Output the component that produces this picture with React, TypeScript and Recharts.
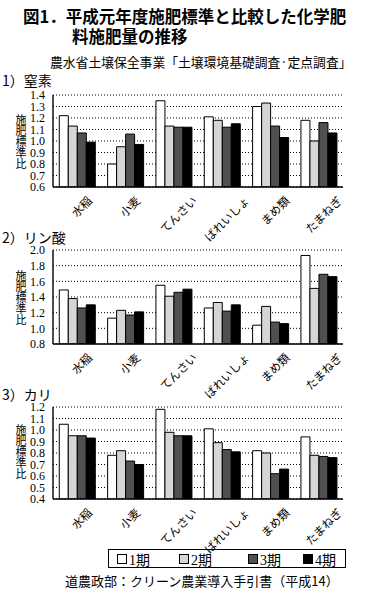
import React from 'react';
import { BarChart, Bar, XAxis, YAxis, CartesianGrid } from 'recharts';

const categories = ['水稲', '小麦', 'てんさい', 'ばれいしょ', 'まめ類', 'たまねぎ'];
const periods = ['1期', '2期', '3期', '4期'];
const periodColors = ['#ffffff', '#d6d6d6', '#505050', '#000000'];

const nitrogenP1 = [1.22, 0.80, 1.35, 1.21, 1.30, 1.18];
const nitrogenP2 = [1.13, 0.95, 1.13, 1.18, 1.33, 1.00];
const nitrogenP3 = [1.07, 1.06, 1.12, 1.12, 1.13, 1.16];
const nitrogenP4 = [0.99, 0.97, 1.12, 1.15, 1.03, 1.07];
const nitrogenTicks = [0.6, 0.7, 0.8, 0.9, 1.0, 1.1, 1.2, 1.3, 1.4];

const phosphateP1 = [1.49, 1.13, 1.55, 1.26, 1.04, 1.93];
const phosphateP2 = [1.38, 1.23, 1.41, 1.33, 1.28, 1.51];
const phosphateP3 = [1.26, 1.17, 1.46, 1.22, 1.08, 1.69];
const phosphateP4 = [1.30, 1.21, 1.50, 1.30, 1.06, 1.66];
const phosphateTicks = [0.8, 1.0, 1.2, 1.4, 1.6, 1.8, 2.0];

const potassiumP1 = [1.05, 0.78, 1.18, 1.01, 0.82, 0.94];
const potassiumP2 = [0.95, 0.82, 0.98, 0.89, 0.80, 0.78];
const potassiumP3 = [0.95, 0.73, 0.95, 0.83, 0.62, 0.77];
const potassiumP4 = [0.93, 0.70, 0.95, 0.81, 0.66, 0.76];
const potassiumTicks = [0.4, 0.5, 0.6, 0.7, 0.8, 0.9, 1.0, 1.1, 1.2];

const titleLine1 = '図1．平成元年度施肥標準と比較した化学肥';
const titleLine2 = '料施肥量の推移';
const subtitle = '農水省土壌保全事業「土壌環境基礎調査·定点調査」';
const section1 = '1）窒素';
const section2 = '2）リン酸';
const section3 = '3）カリ';
const yLabel = '施肥標準比';
const source = '道農政部：クリーン農業導入手引書（平成14）';

const CJK = '"Noto Sans CJK JP", sans-serif';
const SERIF = '"Liberation Serif", "DejaVu Serif", serif';

function buildRows(series: number[][]) {
  return categories.map((name, i) => {
    const row: Record<string, any> = { name };
    periods.forEach((p, j) => {
      row[p] = series[j][i];
    });
    return row;
  });
}

const CatTick = (props: any) => {
  const { x, y, payload } = props;
  const n = String(payload.value).length;
  const ex = x + 4 + 4.1 * n;
  const ey = y + 9;
  return (
    <text
      x={ex}
      y={ey}
      textAnchor="end"
      dominantBaseline="central"
      transform={`rotate(-45 ${ex} ${ey})`}
      fontSize={11.5}
      fontFamily={CJK}
      fill="#000"
    >
      {payload.value}
    </text>
  );
};

type PanelProps = {
  series: number[][];
  ticks: number[];
  plotTop: number;
  plotH: number;
};

const Panel = ({ series, ticks, plotTop, plotH }: PanelProps) => {
  const data = buildRows(series);
  const domain = [ticks[0], ticks[ticks.length - 1]];
  const top = 10;
  const xh = 66;
  return (
    <div style={{ position: 'absolute', left: 0, top: plotTop - top }}>
      <BarChart
        width={372}
        height={top + plotH + xh}
        data={data}
        margin={{ top, right: 29, bottom: 0, left: 0 }}
        barCategoryGap="13%"
        barGap={0}
      >
        <CartesianGrid vertical={false} stroke="#000" strokeDasharray="1 2" />
        <XAxis
          dataKey="name"
          height={xh}
          interval={0}
          tickLine={false}
          tickSize={0}
          tick={<CatTick />}
          axisLine={{ stroke: '#000', strokeWidth: 1.4 }}
        />
        <XAxis
          xAxisId="top"
          dataKey="name"
          orientation="top"
          height={0}
          tick={false}
          tickLine={false}
          axisLine={{ stroke: '#000', strokeWidth: 1.4 }}
        />
        <YAxis
          width={53}
          domain={domain}
          ticks={ticks}
          interval={0}
          tickLine={false}
          tickSize={4}
          tickMargin={4}
          allowDataOverflow
          tickFormatter={(v: number) => v.toFixed(1)}
          tick={{ fontSize: 12, fontFamily: SERIF, fill: '#000' }}
          axisLine={{ stroke: '#000', strokeWidth: 1.4 }}
        />
        <YAxis
          yAxisId="right"
          orientation="right"
          width={0}
          domain={domain}
          tick={false}
          tickLine={false}
          axisLine={{ stroke: '#000', strokeWidth: 1.4 }}
        />
        {periods.map((p, j) => (
          <Bar
            key={p}
            dataKey={p}
            fill={periodColors[j]}
            stroke="#000"
            strokeWidth={1}
            isAnimationActive={false}
          />
        ))}
      </BarChart>
    </div>
  );
};

const Txt = ({ x, cy, size, bold, children, family, lh }: any) => {
  const lineH = lh || size * 1.2;
  return (
    <div
      style={{
        position: 'absolute',
        left: x,
        top: cy - lineH / 2,
        fontSize: size,
        lineHeight: `${lineH}px`,
        fontWeight: bold ? 700 : 400,
        fontFamily: family || CJK,
        whiteSpace: 'nowrap',
        color: '#000',
      }}
    >
      {children}
    </div>
  );
};

const VLabel = ({ cy }: { cy: number }) => {
  const size = 11;
  const len = Array.from(yLabel).length * size;
  return (
    <div
      style={{
        position: 'absolute',
        left: 14,
        top: cy - len / 2,
        width: 13,
        height: len,
        fontSize: size,
        lineHeight: '13px',
        fontFamily: CJK,
        writingMode: 'vertical-rl',
        textOrientation: 'upright',
        color: '#000',
        whiteSpace: 'nowrap',
      }}
    >
      {yLabel}
    </div>
  );
};

const legendOffsets = [8, 70, 139, 194];

export default function App() {
  return (
    <div
      style={{
        position: 'absolute',
        left: 0,
        top: 0,
        width: 372,
        height: 595,
        background: '#fff',
        overflow: 'hidden',
      }}
    >
      <Txt x={23} cy={17} size={16.5} bold>{titleLine1}</Txt>
      <Txt x={72} cy={37} size={16.5} bold>{titleLine2}</Txt>
      <Txt x={50} cy={62} size={12.8}>{subtitle}</Txt>

      <Panel series={[nitrogenP1, nitrogenP2, nitrogenP3, nitrogenP4]} ticks={nitrogenTicks} plotTop={95} plotH={92} />
      <Panel series={[phosphateP1, phosphateP2, phosphateP3, phosphateP4]} ticks={phosphateTicks} plotTop={250} plotH={94} />
      <Panel series={[potassiumP1, potassiumP2, potassiumP3, potassiumP4]} ticks={potassiumTicks} plotTop={407} plotH={92} />

      <Txt x={2} cy={80} size={14} lh={14}>{section1}</Txt>
      <Txt x={2} cy={237} size={14} lh={14}>{section2}</Txt>
      <Txt x={2} cy={394} size={14} lh={14}>{section3}</Txt>

      <VLabel cy={141} />
      <VLabel cy={297} />
      <VLabel cy={451} />

      <div
        style={{
          position: 'absolute',
          left: 108,
          top: 549,
          width: 236,
          height: 17,
          border: '1px solid #000',
        }}
      >
        {periods.map((p, i) => (
          <div
            key={p}
            style={{
              position: 'absolute',
              left: legendOffsets[i],
              top: 0,
              height: 17,
              display: 'flex',
              alignItems: 'center',
              fontSize: 14,
              fontFamily: SERIF,
              whiteSpace: 'nowrap',
            }}
          >
            <span
              style={{
                display: 'inline-block',
                width: 8,
                height: 8,
                background: periodColors[i],
                border: '1px solid #000',
                marginRight: 2,
              }}
            />
            <span style={{ fontFamily: `${SERIF.split(',')[0]}, ${CJK}` }}>{p}</span>
          </div>
        ))}
      </div>

      <Txt x={65} cy={581} size={13}>{source}</Txt>
    </div>
  );
}
